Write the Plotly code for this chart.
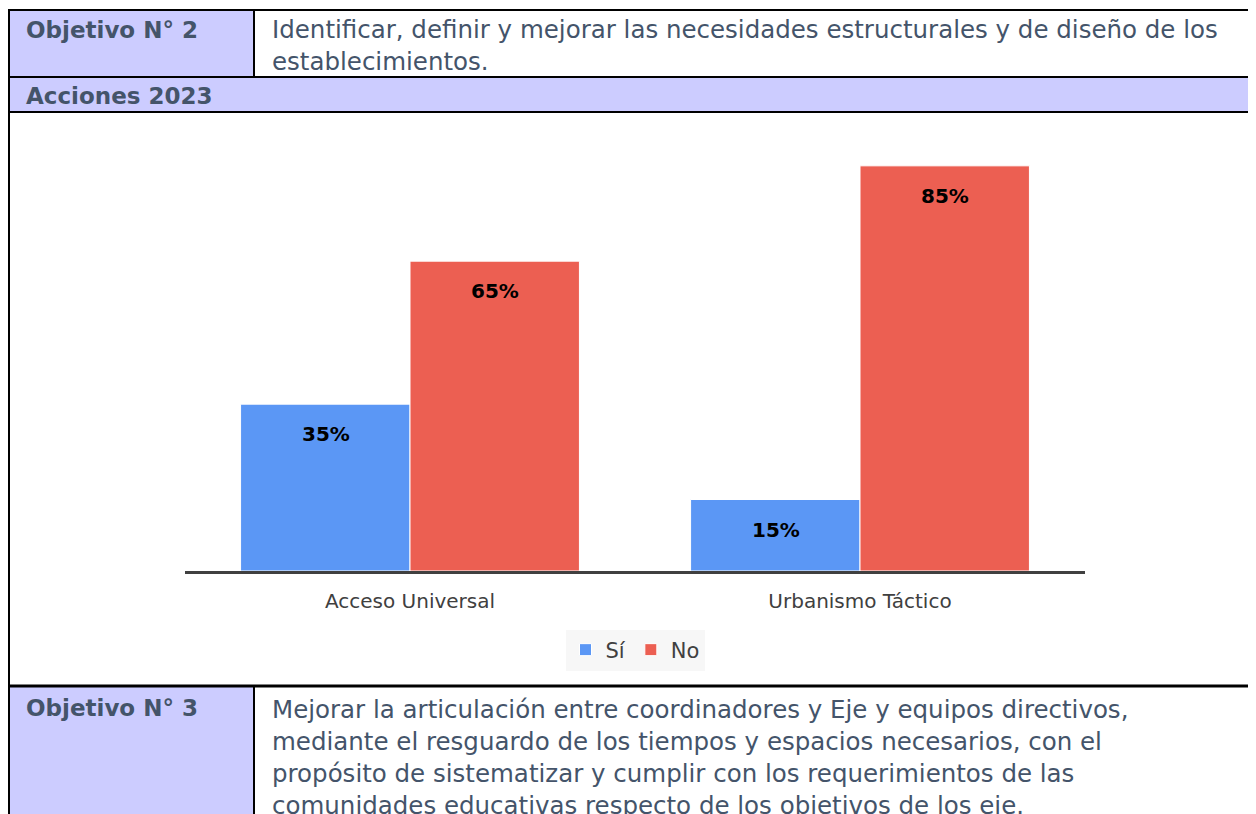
import plotly.graph_objects as go

# ---------------- data ----------------
categories = ["Acceso Universal", "Urbanismo Táctico"]
series_names = ["Sí", "No"]
si_values = [35, 15]
no_values = [65, 85]
value_labels_si = ["35%", "15%"]
value_labels_no = ["65%", "85%"]

header_obj2 = "Objetivo N° 2"
text_obj2 = ["Identificar, definir y mejorar las necesidades estructurales y de diseño de los",
             "establecimientos."]
header_acc = "Acciones 2023"
header_obj3 = "Objetivo N° 3"
text_obj3 = ["Mejorar la articulación entre coordinadores y Eje y equipos directivos,",
             "mediante el resguardo de los tiempos y espacios necesarios, con el",
             "propósito de sistematizar y cumplir con los requerimientos de las",
             "comunidades educativas respecto de los objetivos de los eje."]

# ---------------- styles ----------------
# page body has an 8px margin, so the figure is 8px smaller and everything is shifted by 8px
W, H = 1248, 806
L, R, T, B = 177, 171, 134, 243
PW, PH = W - L - R, H - T - B
BLUE = "#5B97F5"
RED = "#EC5F52"
LAV = "#CCCCFF"
HDR = "#44546A"
BODY = "DejaVu Sans"


def px(x):
    # reference pixel x -> paper coordinate
    return (x - 8 - L) / PW


def py(y):
    # reference pixel y -> paper coordinate
    return (H - B - (y - 8)) / PH


fig = go.Figure()
fig.add_trace(go.Bar(name=series_names[0], x=categories, y=si_values,
                     marker=dict(color=BLUE, line=dict(color="#FFFFFF", width=1))))
fig.add_trace(go.Bar(name=series_names[1], x=categories, y=no_values,
                     marker=dict(color=RED, line=dict(color="#FFFFFF", width=1))))

annotations = []
for cat, v, lab in zip(categories, si_values, value_labels_si):
    annotations.append(dict(x=cat, y=v, xref="x", yref="y", text="<b>%s</b>" % lab,
                            showarrow=False, xshift=-84, yshift=-30,
                            font=dict(family=BODY, size=20, color="#000000")))
for cat, v, lab in zip(categories, no_values, value_labels_no):
    annotations.append(dict(x=cat, y=v, xref="x", yref="y", text="<b>%s</b>" % lab,
                            showarrow=False, xshift=85, yshift=-30,
                            font=dict(family=BODY, size=20, color="#000000")))

# table text
annotations.append(dict(x=px(24), y=py(30), xref="paper", yref="paper", xanchor="left", yanchor="middle",
                        text="<b>%s</b>" % header_obj2, showarrow=False,
                        font=dict(family=BODY, size=23, color=HDR)))
for i, line in enumerate(text_obj2):
    annotations.append(dict(x=px(270), y=py(30 + 31 * i), xref="paper", yref="paper", xanchor="left",
                            yanchor="middle", text=line, showarrow=False,
                            font=dict(family=BODY, size=24.5, color=HDR)))
annotations.append(dict(x=px(24), y=py(96), xref="paper", yref="paper", xanchor="left", yanchor="middle",
                        text="<b>%s</b>" % header_acc, showarrow=False,
                        font=dict(family=BODY, size=23, color=HDR)))
annotations.append(dict(x=px(24), y=py(708), xref="paper", yref="paper", xanchor="left", yanchor="middle",
                        text="<b>%s</b>" % header_obj3, showarrow=False,
                        font=dict(family=BODY, size=23, color=HDR)))
for i, line in enumerate(text_obj3):
    annotations.append(dict(x=px(270), y=py(709 + 32 * i), xref="paper", yref="paper", xanchor="left",
                            yanchor="middle", text=line, showarrow=False,
                            font=dict(family=BODY, size=24.5, color=HDR)))

shapes = []


def rect(x0, y0, x1, y1, color):
    shapes.append(dict(type="rect", xref="paper", yref="paper", x0=px(x0), x1=px(x1),
                       y0=py(y0), y1=py(y1), fillcolor=color, line=dict(width=0), layer="below"))


def line(x0, y0, x1, y1, w=2, color="#000000"):
    shapes.append(dict(type="line", xref="paper", yref="paper", x0=px(x0), x1=px(x1),
                       y0=py(y0), y1=py(y1), line=dict(color=color, width=w), layer="above"))


rect(9, 10, 254, 77, LAV)
rect(9, 77, 1260, 112, LAV)
rect(9, 686, 254, 820, LAV)
line(9, 10, 1260, 10)
line(9, 77, 1260, 77)
line(9, 112, 1260, 112)
line(9, 686, 1260, 686, 3)
line(9, 9, 9, 820)
line(254, 10, 254, 77)
line(254, 686, 254, 820)

fig.update_layout(
    width=W, height=H,
    margin=dict(l=L, r=R, t=T, b=B, autoexpand=False),
    paper_bgcolor="#FFFFFF", plot_bgcolor="#FFFFFF",
    barmode="group", bargap=0.247, bargroupgap=0,
    showlegend=True,
    legend=dict(orientation="h", x=0.5, xanchor="center", y=py(650), yanchor="middle",
                bgcolor="#F7F7F7", font=dict(family=BODY, size=21, color="#404040"),
                itemwidth=30, traceorder="normal"),
    xaxis=dict(showline=True, linewidth=3, linecolor="#404040", ticks="", showgrid=False,
               tickfont=dict(family=BODY, size=20, color="#404040"), range=[-0.5, 1.5],
               ticklabelstandoff=10),
    yaxis=dict(visible=False, range=[0, 90], showgrid=False, zeroline=False),
    annotations=annotations,
    shapes=shapes,
)

fig.write_html("out.html")
